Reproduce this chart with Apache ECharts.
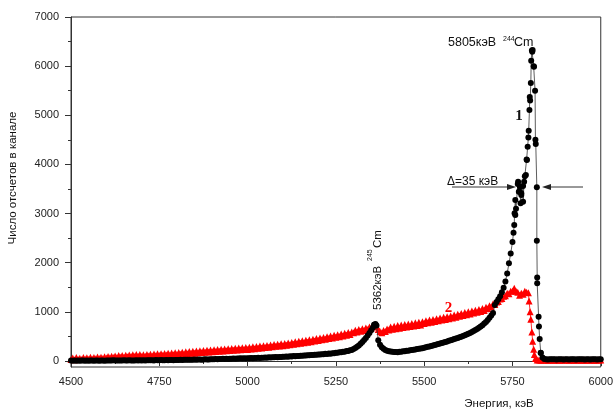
<!DOCTYPE html>
<html>
<head>
<meta charset="utf-8">
<script src="https://cdn.jsdelivr.net/npm/echarts@6/dist/echarts.min.js"></script>
<style>
html, body { margin: 0; padding: 0; background: #fff; }
#spectrum { width: 616px; height: 409px; }
</style>
</head>
<body>
<div id="spectrum"></div>
<script>
// channel grid of both spectra (keV)
const channelStart = 4500
const channelStep = 5

// curve 1 (black circles), counts per channel, 4500..6000 keV
const counts1 = [
  8, 6, 10, 7, 9, 5, 8, 11, 6, 9, 7, 10, 8, 6, 9, 11, 7, 8, 10, 6, // 4500
  9, 12, 8, 10, 13, 9, 11, 8, 12, 10, 14, 9, 11, 13, 10, 12, 9, 14, 11, 13, // 4600
  12, 15, 11, 16, 13, 17, 14, 12, 18, 15, 16, 19, 14, 17, 20, 16, 18, 21, 17, 19, // 4700
  22, 19, 24, 21, 26, 23, 25, 28, 24, 27, 30, 26, 29, 32, 28, 31, 34, 30, 33, 36, // 4800
  38, 35, 40, 37, 42, 39, 44, 41, 46, 43, 48, 45, 50, 47, 52, 49, 54, 51, 56, 53, // 4900
  58, 55, 60, 57, 63, 60, 65, 62, 68, 65, 71, 68, 74, 71, 77, 74, 80, 78, 84, 81, // 5000
  88, 85, 92, 89, 96, 93, 100, 97, 104, 101, 108, 106, 113, 110, 118, 115, 123, 120, 128, 126, // 5100
  133, 131, 139, 137, 146, 143, 152, 150, 160, 158, 168, 167, 178, 177, 189, 190, 203, 206, 220, 226, // 5200
  245, 265, 290, 318, 350, 385, 425, 470, 520, 570, 625, 680, 740, 725, 420, 330, 280, 250, 225, 210, // 5300
  200, 193, 188, 182, 181, 180, 186, 189, 197, 199, 207, 211, 219, 223, 231, 235, 243, 247, 256, 261, // 5400
  270, 279, 288, 297, 307, 316, 326, 336, 346, 356, 367, 377, 388, 399, 411, 422, 434, 446, 458, 470, // 5500
  483, 496, 510, 524, 539, 555, 572, 590, 610, 630, 652, 676, 702, 730, 762, 796, 835, 878, 925, 978, // 5600
  1140, 1200, 1255, 1320, 1400, 1490, 1620, 1780, 1990, 2190, 2420, 2770, 3100, 3600, 3450, 3380, 3560, 3760, 4100, 4550, // 5700
  5300, 6320, 6000, 4500, 1700, 700, 170, 70, 40, 36, 33, 38, 34, 37, 35, 32, 36, 34, 38, 33, // 5800
  35, 37, 33, 36, 34, 38, 32, 35, 37, 34, 36, 33, 38, 35, 32, 36, 34, 37, 33, 35, // 5900
  36
]
// extra points of curve 1 read around the two peaks [keV, counts]
const peak1 = [
  [5358, 740], [5362, 755],
  [5753, 2611], [5756, 3005], [5758, 2971], [5758, 3276], [5766, 3649], [5768, 3445],
  [5771, 3547], [5773, 3209], [5775, 3412], [5780, 3241], [5783, 3649], [5788, 3785],
  [5791, 4090], [5793, 4361], [5796, 4686], [5798, 5107], [5799, 5372], [5802, 5657],
  [5803, 6111], [5806, 6294], [5807, 6330], [5811, 5989], [5814, 5500], [5816, 4416],
  [5819, 3535], [5819, 2448], [5820, 1581], [5824, 901], [5827, 448], [5830, 163]
]

// curve 2 (red triangles), counts per channel, 4500..6000 keV
const counts2 = [
  30, 62, 28, 70, 38, 58, 32, 72, 40, 66, 36, 78, 42, 70, 45, 80, 50, 74, 52, 85, // 4500
  60, 92, 66, 98, 70, 104, 72, 110, 78, 112, 82, 118, 86, 120, 90, 126, 94, 130, 98, 134, // 4600
  92, 128, 96, 132, 100, 136, 104, 142, 108, 146, 112, 150, 116, 154, 120, 158, 124, 162, 128, 166, // 4700
  132, 172, 138, 178, 144, 186, 150, 192, 156, 198, 160, 202, 166, 208, 172, 214, 178, 220, 184, 226, // 4800
  186, 228, 192, 234, 196, 240, 202, 244, 208, 250, 212, 256, 218, 260, 224, 266, 228, 272, 234, 276, // 4900
  236, 280, 244, 288, 250, 296, 258, 304, 266, 310, 274, 318, 282, 326, 290, 334, 298, 342, 306, 350, // 5000
  312, 358, 322, 368, 332, 378, 342, 390, 352, 400, 362, 412, 372, 422, 384, 432, 394, 444, 406, 456, // 5100
  418, 466, 430, 480, 444, 494, 456, 508, 470, 522, 482, 536, 496, 550, 510, 564, 524, 578, 538, 592, // 5200
  575, 625, 590, 640, 605, 655, 620, 670, 640, 690, 665, 712, 690, 715, 640, 600, 575, 620, 600, 650, // 5300
  630, 690, 645, 705, 655, 720, 668, 732, 680, 745, 690, 755, 700, 765, 712, 778, 722, 790, 735, 800, // 5400
  762, 818, 776, 832, 790, 846, 804, 860, 818, 874, 832, 888, 846, 902, 860, 918, 876, 934, 890, 950, // 5500
  910, 968, 925, 985, 942, 1000, 958, 1016, 975, 1035, 990, 1050, 1008, 1070, 1030, 1092, 1062, 1125, 1100, 1165, // 5600
  1150, 1200, 1210, 1260, 1270, 1320, 1330, 1380, 1370, 1420, 1425, 1480, 1420, 1400, 1340, 1380, 1360, 1420, 1400, 1390, // 5700
  1000, 590, 240, 50, 18, 20, 16, 22, 18, 20, 17, 21, 19, 16, 20, 18, 22, 17, 19, 21, // 5800
  18, 20, 16, 21, 19, 17, 22, 18, 20, 16, 19, 21, 17, 20, 18, 22, 16, 19, 21, 18, // 5900
  20
]
// extra points on the falling edge of curve 2
const peak2 = [[5797, 1220], [5802, 850], [5807, 400], [5812, 130]]

const yTicks = [0, 1000, 2000, 3000, 4000, 5000, 6000, 7000]
const yMinorTicks = [500, 1500, 2500, 3500, 4500, 5500, 6500]

function toPoints (counts, extra) {
  const pts = counts.map((c, i) => [channelStart + i * channelStep, c])
  return pts.concat(extra).sort((a, b) => a[0] - b[0])
}

const font = '"Liberation Sans", Arial, sans-serif'
const serif = '"Liberation Serif", "Times New Roman", serif'
const plain = v => String(v)

const myChart = echarts.init(document.getElementById('spectrum'))

const option = {
  animation: false,
  backgroundColor: '#fff',
  grid: {
    left: 71,
    right: 13,
    top: 17,
    bottom: 42,
    show: true,
    borderColor: '#333',
    borderWidth: 1
  },
  xAxis: {
    type: 'value',
    min: 4500,
    max: 6000,
    interval: 250,
    axisLine: { show: true, lineStyle: { color: '#333', width: 1 } },
    axisTick: { show: true, length: 5, lineStyle: { color: '#333' } },
    minorTick: { show: true, splitNumber: 2, length: 3, lineStyle: { color: '#333' } },
    splitLine: { show: false },
    axisLabel: { margin: 9, fontSize: 11, fontFamily: font, color: '#222', formatter: plain }
  },
  yAxis: [
    {
      type: 'value',
      min: -122,
      max: 7000,
      axisLine: { show: true, lineStyle: { color: '#333', width: 1 } },
      axisTick: { show: true, length: 6, customValues: yTicks, lineStyle: { color: '#333' } },
      splitLine: { show: false },
      axisLabel: { margin: 12, fontSize: 11, fontFamily: font, color: '#222', customValues: yTicks, formatter: plain }
    },
    {
      // minor ticks only
      type: 'value',
      min: -122,
      max: 7000,
      position: 'left',
      axisLine: { show: false },
      axisTick: { show: true, length: 3, customValues: yMinorTicks, lineStyle: { color: '#333' } },
      axisLabel: { show: false },
      splitLine: { show: false }
    }
  ],
  series: [
    {
      name: '2',
      type: 'line',
      data: toPoints(counts2, peak2),
      symbol: 'triangle',
      symbolSize: 7,
      showAllSymbol: true,
      itemStyle: { color: '#ff0000' },
      lineStyle: { color: '#ff0000', width: 0.8 },
      z: 2
    },
    {
      name: '1',
      type: 'line',
      data: toPoints(counts1, peak1),
      symbol: 'circle',
      symbolSize: 6,
      showAllSymbol: true,
      itemStyle: { color: '#000' },
      lineStyle: { color: '#333', width: 0.8 },
      z: 3
    }
  ],
  graphic: [
    {
      type: 'text', x: 13, y: 178, rotation: Math.PI / 2,
      style: { text: 'Число отсчетов в канале', fontSize: 11.5, fontFamily: font, fill: '#111', align: 'center', verticalAlign: 'middle' }
    },
    {
      type: 'text', x: 499, y: 404,
      style: { text: 'Энергия, кэВ', fontSize: 11.5, fontFamily: font, fill: '#111', align: 'center', verticalAlign: 'middle' }
    },
    { type: 'text', x: 448, y: 43, style: { text: '5805кэВ', fontSize: 12.5, fontFamily: font, fill: '#111', verticalAlign: 'middle' } },
    { type: 'text', x: 503, y: 39, style: { text: '244', fontSize: 7, fontFamily: font, fill: '#111', verticalAlign: 'middle' } },
    { type: 'text', x: 514, y: 43, style: { text: 'Cm', fontSize: 12.5, fontFamily: font, fill: '#111', verticalAlign: 'middle' } },
    { type: 'text', x: 519, y: 116, style: { text: '1', fontSize: 15, fontWeight: 'bold', fontFamily: serif, fill: '#111', align: 'center', verticalAlign: 'middle' } },
    { type: 'text', x: 448.5, y: 308, style: { text: '2', fontSize: 15, fontWeight: 'bold', fontFamily: serif, fill: '#ff0000', align: 'center', verticalAlign: 'middle' } },
    { type: 'text', x: 447, y: 182, style: { text: 'Δ=35 кэВ', fontSize: 12, fontFamily: font, fill: '#111', verticalAlign: 'middle' } },
    // FWHM arrows
    { type: 'line', shape: { x1: 452, y1: 187, x2: 508, y2: 187 }, style: { stroke: '#333', lineWidth: 1 } },
    { type: 'polygon', shape: { points: [[516, 187], [507, 184], [507, 190]] }, style: { fill: '#222' } },
    { type: 'line', shape: { x1: 583, y1: 187, x2: 550, y2: 187 }, style: { stroke: '#333', lineWidth: 1 } },
    { type: 'polygon', shape: { points: [[542, 187], [551, 184], [551, 190]] }, style: { fill: '#222' } },
    {
      type: 'group', x: 378, y: 310, rotation: Math.PI / 2,
      children: [
        { type: 'text', x: 0, y: 0, style: { text: '5362кэВ', fontSize: 11.5, fontFamily: font, fill: '#111', verticalAlign: 'middle' } },
        { type: 'text', x: 49, y: -8, style: { text: '245', fontSize: 7, fontFamily: font, fill: '#111', verticalAlign: 'middle' } },
        { type: 'text', x: 62, y: 0, style: { text: 'Cm', fontSize: 11.5, fontFamily: font, fill: '#111', verticalAlign: 'middle' } }
      ]
    }
  ]
}

myChart.setOption(option)
</script>
</body>
</html>
